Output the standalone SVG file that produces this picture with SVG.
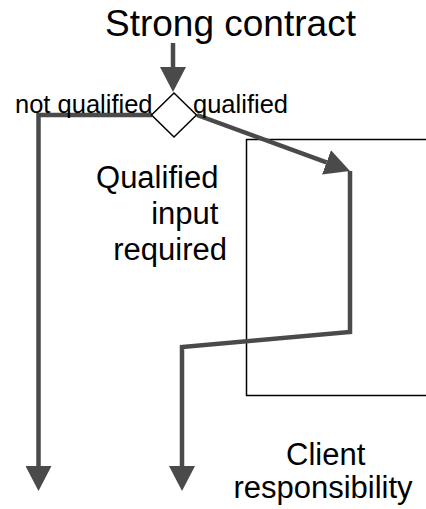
<svg xmlns="http://www.w3.org/2000/svg" width="426" height="509" viewBox="0 0 426 509">
  <style>
    .label { font-family: "Liberation Sans", Arial, sans-serif; fill: #000; }
    .flow { fill: none; stroke: #4a4a4a; stroke-width: 4.5; stroke-linejoin: miter; }
    .outline { fill: none; stroke: #000; stroke-width: 1.5; }
  </style>
  <defs>
    <marker id="arrow" viewBox="0 0 25 26" refX="0" refY="13" markerWidth="25" markerHeight="26" markerUnits="userSpaceOnUse" orient="auto">
      <path d="M0,0 L25,13 L0,26 Z" fill="#4a4a4a"/>
    </marker>
  </defs>
  <rect width="426" height="509" fill="#fff"/>

  <!-- region boundary -->
  <g id="qualified-region">
    <path class="outline" d="M428,139.5 H246.5 V395.5 H428"/>
  </g>

  <g id="connectors">
    <path class="flow" d="M173,43 V67" marker-end="url(#arrow)"/>
    <path class="flow" d="M152,115 H38.5 V466" marker-end="url(#arrow)"/>
    <path class="flow" d="M197,115 L326.5,162.4" marker-end="url(#arrow)"/>
    <path class="flow" d="M350,171 V332 L182,347 V466" marker-end="url(#arrow)"/>
  </g>

  <g id="title">
    <text class="label" x="105" y="36" font-size="37">Strong contract</text>
  </g>

  <g id="decision">
    <polygon points="174,93 196.5,115 174,137 151.5,115" fill="#fff" stroke="#000" stroke-width="1.5"/>
    <text class="label" x="15" y="113" font-size="25.5">not qualified</text>
    <text class="label" x="193" y="113" font-size="25.5">qualified</text>
  </g>

  <g id="qualified-label">
    <text class="label" font-size="31" text-anchor="end">
      <tspan x="227" y="188">Qualified</tspan>
      <tspan x="227" y="224">input</tspan>
      <tspan x="227" y="260">required</tspan>
    </text>
  </g>

  <g id="client-label">
    <text class="label" font-size="31" text-anchor="middle">
      <tspan x="330" y="465">Client</tspan>
      <tspan x="323" y="498">responsibility</tspan>
    </text>
  </g>
</svg>
